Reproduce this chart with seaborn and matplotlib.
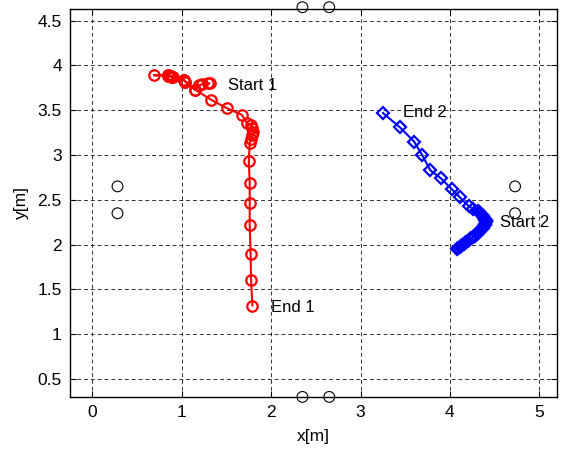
import matplotlib
matplotlib.use("Agg")
import matplotlib.pyplot as plt
import seaborn as sns

# robot 1 trajectory (red, circles)
x1 = [1.31, 1.29, 1.23, 1.19, 1.15, 1.04, 1.02, 0.90, 0.88, 0.87, 0.86, 0.85, 0.69, 0.84,
      0.85, 0.86, 0.87, 0.88, 0.89, 1.02, 1.04, 1.15, 1.33, 1.51, 1.67, 1.73, 1.77, 1.79,
      1.80, 1.79, 1.77, 1.76, 1.75, 1.76, 1.76, 1.76, 1.77, 1.775, 1.79]
y1 = [3.80, 3.80, 3.79, 3.78, 3.73, 3.82, 3.84, 3.87, 3.88, 3.88, 3.885, 3.89, 3.89, 3.89,
      3.885, 3.88, 3.88, 3.875, 3.87, 3.84, 3.82, 3.73, 3.615, 3.52, 3.45, 3.355, 3.33,
      3.30, 3.26, 3.22, 3.18, 3.13, 2.93, 2.69, 2.46, 2.22, 1.90, 1.61, 1.32]

# robot 2 trajectory (blue, diamonds)
x2 = [4.08, 4.095, 4.11, 4.125, 4.14, 4.155, 4.17, 4.185, 4.20, 4.22, 4.24, 4.26, 4.28,
      4.30, 4.31, 4.33, 4.34, 4.355, 4.37, 4.38, 4.39, 4.395, 4.40, 4.40, 4.40, 4.395,
      4.39, 4.38, 4.37, 4.355, 4.34, 4.325, 4.31, 4.26, 4.21, 4.11, 4.02, 3.90, 3.78,
      3.69, 3.60, 3.44, 3.25]
y2 = [1.955, 1.965, 1.975, 1.99, 2.00, 2.01, 2.02, 2.03, 2.045, 2.06, 2.07, 2.085, 2.10,
      2.115, 2.13, 2.145, 2.16, 2.175, 2.19, 2.205, 2.22, 2.235, 2.25, 2.26, 2.27, 2.28,
      2.29, 2.30, 2.32, 2.33, 2.35, 2.36, 2.37, 2.40, 2.43, 2.53, 2.62, 2.74, 2.83, 3.00,
      3.15, 3.31, 3.47]

# fixed landmarks
lx = [2.35, 2.65, 2.35, 2.65, 0.28, 0.28, 4.73, 4.73]
ly = [4.65, 4.65, 0.30, 0.30, 2.65, 2.35, 2.65, 2.35]

labels = ["Start 1", "End 1", "Start 2", "End 2"]
label_x = [1.52, 2.00, 4.56, 3.47]
label_y = [3.78, 1.30, 2.25, 3.47]

sns.set_style("ticks")
plt.rcParams['font.family'] = ['Liberation Sans', 'DejaVu Sans']
plt.rcParams['text.color'] = 'black'
plt.rcParams['axes.labelcolor'] = 'black'
plt.rcParams['xtick.color'] = 'black'
plt.rcParams['ytick.color'] = 'black'

fig = plt.figure(figsize=(5.61, 4.5), dpi=100)
ax = fig.add_axes([0.125, 0.118, 0.868, 0.862])

sns.lineplot(x=x1, y=y1, sort=False, estimator=None, color='red', lw=1.5,
             marker='o', markersize=7.5, markerfacecolor='none', markeredgecolor='red',
             markeredgewidth=1.6, ax=ax)
sns.lineplot(x=x2, y=y2, sort=False, estimator=None, color='blue', lw=1.5,
             marker='D', markersize=6, markerfacecolor='none', markeredgecolor='blue',
             markeredgewidth=1.6, ax=ax)
sns.scatterplot(x=lx, y=ly, marker='o', s=60, facecolors='none', edgecolors='black',
                linewidths=0.8, clip_on=False, zorder=5, ax=ax)

for t, tx, ty in zip(labels, label_x, label_y):
    ax.text(tx, ty, t, fontsize=12, va='center', ha='left', color='black')

ax.set_xlim(-0.25, 5.2)
ax.set_ylim(0.3, 4.63)
ax.set_xticks([0, 1, 2, 3, 4, 5])
ax.set_yticks([0.5, 1, 1.5, 2, 2.5, 3, 3.5, 4, 4.5])
ax.set_yticklabels(['0.5', '1', '1.5', '2', '2.5', '3', '3.5', '4', '4.5'])
ax.grid(True, color='black', linestyle=(0, (4, 3)), linewidth=0.7, alpha=0.8)
ax.tick_params(direction='in', top=True, right=True, labelsize=12.5, length=4, pad=6,
               colors='black')
for s in ax.spines.values():
    s.set_linewidth(1.0)
    s.set_color('black')
ax.set_xlabel('x[m]', fontsize=12.5, labelpad=6)
ax.set_ylabel('y[m]', fontsize=12.5, labelpad=6)

fig.savefig('out.png', dpi=100)
